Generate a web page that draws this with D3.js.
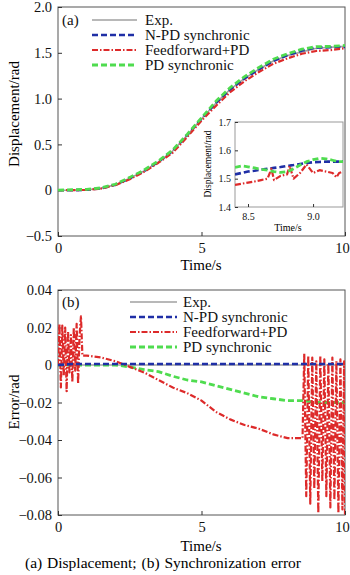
<!DOCTYPE html>
<html>
<head>
<meta charset="utf-8">
<script src="https://cdn.jsdelivr.net/npm/d3@7"></script>
<style>
  body { margin: 0; background: #fff; }
  svg, svg text { font-family: "Liberation Serif", "Times New Roman", Times, "Tinos", serif !important; }
</style>
</head>
<body>
<div id="wrapper"></div>
<script>
// ---- data ----
var legendNames = ["Exp.", "N-PD synchronic", "Feedforward+PD", "PD synchronic"];

// (a) displacement
var timeA = [0, 0.5, 1, 1.5, 2, 2.5, 3, 3.5, 4, 4.5, 5, 5.5, 6, 6.5, 7, 7.5, 8, 8.5, 9, 9.5, 10];
var expA  = [0, 0, 0.005, 0.02, 0.06, 0.13, 0.21, 0.31, 0.43, 0.6, 0.78, 0.95, 1.1, 1.22, 1.32, 1.41, 1.47, 1.51, 1.55, 1.56, 1.57];
var npdA  = [0, 0, 0.005, 0.02, 0.06, 0.13, 0.21, 0.31, 0.43, 0.6, 0.78, 0.95, 1.1, 1.22, 1.32, 1.41, 1.475, 1.525, 1.558, 1.56, 1.565];
var ffA   = [0, 0, 0.004, 0.018, 0.055, 0.12, 0.2, 0.3, 0.41, 0.58, 0.76, 0.92, 1.07, 1.19, 1.29, 1.38, 1.44, 1.49, 1.52, 1.53, 1.55];
var pdA   = [0, 0.005, 0.01, 0.025, 0.065, 0.14, 0.22, 0.32, 0.44, 0.61, 0.79, 0.97, 1.12, 1.24, 1.34, 1.43, 1.49, 1.54, 1.567, 1.57, 1.58];

// inset (zoom 8.4 - 9.23 s)
var insetT   = [8.4, 8.45, 8.5, 8.55, 8.6, 8.65, 8.68, 8.7, 8.75, 8.8, 8.82, 8.85, 8.9, 8.95, 9.0, 9.05, 9.1, 9.15, 9.18, 9.2, 9.23];
var insetNpd = [1.515, 1.52, 1.525, 1.528, 1.532, 1.535, 1.537, 1.538, 1.541, 1.545, 1.546, 1.548, 1.552, 1.555, 1.558, 1.559, 1.56, 1.56, 1.56, 1.56, 1.56];
var insetFf  = [1.478, 1.482, 1.486, 1.49, 1.495, 1.5, 1.535, 1.495, 1.51, 1.515, 1.545, 1.5, 1.52, 1.55, 1.52, 1.53, 1.525, 1.52, 1.505, 1.52, 1.525];
var insetPd  = [1.54, 1.545, 1.542, 1.538, 1.533, 1.53, 1.527, 1.525, 1.522, 1.525, 1.528, 1.535, 1.548, 1.56, 1.567, 1.572, 1.57, 1.565, 1.562, 1.56, 1.56];

// (b) synchronization error
var timeB = timeA;
var expB  = [0, 0, 0, 0, 0, 0, 0, 0, 0, 0, 0, 0, 0, 0, 0, 0, 0, 0, 0, 0, 0];
var npdB  = [0, 0.0005, 0.0005, 0.0005, 0.0005, 0.0005, 0.0005, 0.0005, 0.0005, 0.0005, 0.0005, 0.0005, 0.0005, 0.0005, 0.0005, 0.0005, 0.0005, 0.0005, 0.0005, 0.0005, 0.0005];
var pdB   = [0, 0, 0, 0, 0, -0.001, -0.0025, -0.0035, -0.006, -0.008, -0.009, -0.011, -0.013, -0.015, -0.017, -0.018, -0.019, -0.019, -0.02, -0.02, -0.02];
var ffT   = [0, 0.05, 0.1, 0.15, 0.2, 0.25, 0.3, 0.35, 0.4, 0.45, 0.5, 0.55, 0.6, 0.65, 0.7, 0.75, 0.8, 0.85,
             1, 1.5, 2, 2.5, 3, 3.5, 4, 4.5, 5, 5.5, 6, 6.5, 7, 7.5, 8, 8.52,
             8.58, 8.65, 8.72, 8.79, 8.86, 8.93, 9.0, 9.07, 9.14, 9.21, 9.28, 9.35, 9.42, 9.49, 9.56, 9.63, 9.7, 9.77, 9.84, 9.91, 9.97, 10];
var ffB   = [0, 0.022, -0.012, 0.021, -0.006, 0.02, -0.014, 0.018, -0.004, 0.016, -0.009, 0.02, -0.003, 0.022, -0.01, 0.015, 0.026, 0.005,
             0.005, 0.004, 0.002, -0.001, -0.004, -0.008, -0.012, -0.015, -0.019, -0.025, -0.029, -0.032, -0.034, -0.037, -0.039, -0.039,
             0.006, -0.07, 0.005, -0.074, 0.004, -0.066, 0.002, -0.079, 0.005, -0.062, 0.003, -0.07, 0.001, -0.076, 0.004, -0.072, 0.002, -0.079, 0.003, -0.077, 0.002, -0.08];

var ticksA = [-0.5, 0, 0.5, 1.0, 1.5, 2.0];
var ticksB = [-0.08, -0.06, -0.04, -0.02, 0, 0.02, 0.04];
var ticksX = [0, 5, 10];
var ticksInsetY = [1.4, 1.5, 1.6, 1.7];
var ticksInsetX = [8.5, 9.0];

// ---- styles ----
var styles = [
  {color: "#a0a0a0", width: 1.6, dash: null},
  {color: "#1f2fa6", width: 2.6, dash: "6,3"},
  {color: "#dd2a2a", width: 2.2, dash: "6,2,1.5,2"},
  {color: "#4fdc4f", width: 2.8, dash: "6,3"}
];

var W = 350, H = 575;
var svg = d3.select("#wrapper").append("svg").attr("width", W).attr("height", H);

function minus(s){ return s.replace("-", "\u2212"); }

function panel(cfg){
  var x = d3.scaleLinear().domain(cfg.xDomain).range([cfg.left, cfg.right]);
  var y = d3.scaleLinear().domain(cfg.yDomain).range([cfg.bottom, cfg.top]);
  var g = svg.append("g");

  g.append("rect").attr("x", cfg.left).attr("y", cfg.top)
    .attr("width", cfg.right - cfg.left).attr("height", cfg.bottom - cfg.top)
    .attr("fill", "#fff").attr("stroke", cfg.frame || "#555").attr("stroke-width", 1);

  var clipId = "clip" + Math.round(cfg.top);
  g.append("clipPath").attr("id", clipId).append("rect")
    .attr("x", cfg.left).attr("y", cfg.top - 2)
    .attr("width", cfg.right - cfg.left).attr("height", cfg.bottom - cfg.top + 4);

  var yAxis = d3.axisLeft(y).tickValues(cfg.yTicks).tickSizeInner(-cfg.tick).tickSizeOuter(0)
    .tickPadding(cfg.tick + cfg.pad).tickFormat(cfg.yFmt);
  var xAxis = d3.axisBottom(x).tickValues(cfg.xTicks).tickSizeInner(-cfg.tick).tickSizeOuter(0)
    .tickPadding(cfg.tick + cfg.xpad).tickFormat(cfg.xFmt);

  var ya = g.append("g").attr("transform", "translate(" + cfg.left + ",0)").call(yAxis);
  var xa = g.append("g").attr("transform", "translate(0," + cfg.bottom + ")").call(xAxis);
  [ya, xa].forEach(function(a){
    a.attr("font-family", null);
    a.select(".domain").remove();
    a.selectAll("line").attr("stroke", "#333");
    a.selectAll("text").attr("font-size", cfg.fs).attr("fill", "#111");
  });
  // keep the last x label inside the page
  xa.selectAll("text").filter(function(d){ return d === cfg.xDomain[1] && cfg.right > 340; })
    .attr("dx", -3);

  var plot = g.append("g").attr("clip-path", "url(#" + clipId + ")");
  cfg.series.forEach(function(s){
    var st = styles[s.style];
    var pts = s.t.map(function(t, k){ return [t, s.v[k]]; })
      .filter(function(p){ return p[0] >= cfg.xDomain[0] - 0.05 && p[0] <= cfg.xDomain[1] + 0.05; });
    plot.append("path").datum(pts)
      .attr("fill", "none").attr("stroke", st.color).attr("stroke-width", st.width)
      .attr("stroke-dasharray", st.dash).attr("stroke-linejoin", "round")
      .attr("d", d3.line().x(function(d){ return x(d[0]); }).y(function(d){ return y(d[1]); }));
  });
  return {g: g, x: x, y: y};
}

function legend(lx0, lx1, tx, ys, label, ly){
  var lg = svg.append("g");
  lg.append("text").attr("x", 62).attr("y", ly).attr("dy", "0.35em")
    .attr("font-size", 15).attr("fill", "#111").text(label);
  legendNames.forEach(function(name, i){
    var st = styles[i];
    lg.append("line").attr("x1", lx0).attr("x2", lx1).attr("y1", ys[i]).attr("y2", ys[i])
      .attr("stroke", st.color).attr("stroke-width", st.width).attr("stroke-dasharray", st.dash);
    lg.append("text").attr("x", tx).attr("y", ys[i]).attr("dy", "0.35em")
      .attr("font-size", 15).attr("fill", "#111").text(name);
  });
}

// panel (a)
panel({
  left: 58, right: 345, top: 7, bottom: 236,
  xDomain: [0, 10], yDomain: [-0.5, 2.0],
  xTicks: ticksX, yTicks: ticksA, tick: 4, pad: 2, xpad: 3, fs: 14.5,
  xFmt: d3.format("d"),
  yFmt: function(d){ return d === 0 ? "0" : minus(d.toFixed(1)); },
  series: [
    {t: timeA, v: expA, style: 0},
    {t: timeA, v: npdA, style: 1},
    {t: timeA, v: ffA, style: 2},
    {t: timeA, v: pdA, style: 3}
  ]
});
svg.append("text").attr("x", 201).attr("y", 270).attr("text-anchor", "middle")
  .attr("font-size", 15).text("Time/s");
svg.append("text").attr("transform", "translate(19,114) rotate(-90)").attr("text-anchor", "middle")
  .attr("font-size", 15).text("Displacement/rad");
legend(92, 137, 145, [20, 35, 50, 65], "(a)", 20);

// inset
panel({
  left: 235, right: 343, top: 122, bottom: 207,
  xDomain: [8.4, 9.23], yDomain: [1.4, 1.7],
  xTicks: ticksInsetX, yTicks: ticksInsetY, tick: 3, pad: 1, xpad: 3, fs: 10,
  frame: "#999",
  xFmt: d3.format(".1f"), yFmt: d3.format(".1f"),
  series: [
    {t: insetT, v: insetNpd, style: 1},
    {t: insetT, v: insetFf, style: 2},
    {t: insetT, v: insetPd, style: 3}
  ]
});
svg.append("text").attr("x", 288).attr("y", 231).attr("text-anchor", "middle")
  .attr("font-size", 10).text("Time/s");
svg.append("text").attr("transform", "translate(211,164) rotate(-90)").attr("text-anchor", "middle")
  .attr("font-size", 9.5).text("Displacement/rad");

// panel (b)
panel({
  left: 58, right: 345, top: 290, bottom: 515,
  xDomain: [0, 10], yDomain: [-0.08, 0.04],
  xTicks: ticksX, yTicks: ticksB, tick: 4, pad: 2, xpad: 3, fs: 14.5,
  xFmt: d3.format("d"),
  yFmt: function(d){ return d === 0 ? "0" : minus(d.toFixed(2)); },
  series: [
    {t: timeB, v: expB, style: 0},
    {t: timeB, v: pdB, style: 3},
    {t: ffT, v: ffB, style: 2},
    {t: timeB, v: npdB, style: 1}
  ]
});
svg.append("text").attr("x", 201).attr("y", 551).attr("text-anchor", "middle")
  .attr("font-size", 15).text("Time/s");
svg.append("text").attr("transform", "translate(19,402) rotate(-90)").attr("text-anchor", "middle")
  .attr("font-size", 15).text("Error/rad");
legend(130, 177, 183, [302, 317, 332, 347], "(b)", 302);

// caption
svg.append("text").attr("x", 163).attr("y", 568).attr("text-anchor", "middle")
  .attr("font-size", 15.5).attr("word-spacing", 1).text("(a) Displacement; (b) Synchronization error");
</script>
</body>
</html>
